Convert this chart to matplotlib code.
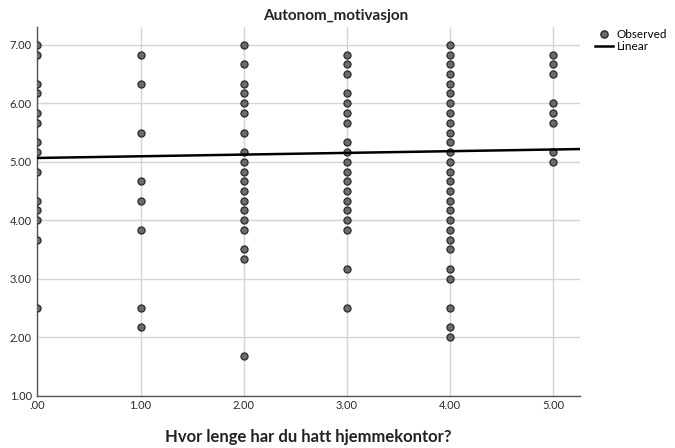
import numpy as np
import matplotlib
matplotlib.use("Agg")
import matplotlib.pyplot as plt
from matplotlib.lines import Line2D

# Autonom_motivasjon scores per group of "Hvor lenge har du hatt hjemmekontor?"
group_0 = [7.00, 6.83, 6.33, 6.17, 5.83, 5.67, 5.33, 5.17, 4.83, 4.33, 4.17, 4.00, 3.67, 2.50]
group_1 = [6.83, 6.33, 5.50, 4.67, 4.33, 3.83, 2.50, 2.17]
group_2 = [7.00, 6.67, 6.33, 6.17, 6.00, 5.83, 5.50, 5.17, 5.00, 4.83, 4.67, 4.50,
           4.33, 4.17, 4.00, 3.83, 3.50, 3.33, 1.67]
group_3 = [6.83, 6.67, 6.50, 6.17, 6.00, 5.83, 5.67, 5.33, 5.17, 5.00, 4.83, 4.67,
           4.50, 4.33, 4.17, 4.00, 3.83, 3.17, 2.50]
group_4 = [7.00, 6.83, 6.67, 6.50, 6.33, 6.17, 6.00, 5.83, 5.67, 5.50, 5.33, 5.17,
           5.00, 4.83, 4.67, 4.50, 4.33, 4.17, 4.00, 3.83, 3.67, 3.50, 3.17, 3.00,
           2.50, 2.17, 2.00]
group_5 = [6.83, 6.67, 6.50, 6.00, 5.83, 5.67, 5.17, 5.00]
groups = [group_0, group_1, group_2, group_3, group_4, group_5]

# linear fit (estimated on all respondents)
fit_intercept = 5.065
fit_slope = 0.029

x_ticks = [0, 1, 2, 3, 4, 5]
x_tick_labels = [".00", "1.00", "2.00", "3.00", "4.00", "5.00"]
y_ticks = [1, 2, 3, 4, 5, 6, 7]
y_tick_labels = ["1.00", "2.00", "3.00", "4.00", "5.00", "6.00", "7.00"]

plt.rcParams["font.family"] = ["Lato", "DejaVu Sans"]

fig = plt.figure(figsize=(6.75, 4.48), dpi=100)
ax = fig.add_axes([0.0553, 0.117, 0.8040, 0.8233])

xs = np.concatenate([np.full(len(g), i) for i, g in zip(x_ticks, groups)])
ys = np.concatenate([np.array(g) for g in groups])

xmin, xmax = 0, 5.26
ax.set_xlim(xmin, xmax)
ax.set_ylim(1, 7.31)

ax.grid(True, color="#d4d4d4", linewidth=1.0, zorder=0)
ax.set_axisbelow(True)

ax.scatter(xs, ys, s=26, facecolor="#6b6b6b", edgecolor="#2b2b2b",
           linewidth=0.9, zorder=3)

line_x = np.array([xmin, xmax])
ax.plot(line_x, fit_intercept + fit_slope * line_x, color="black",
        linewidth=1.8, zorder=4)

ax.set_xticks(x_ticks)
ax.set_xticklabels(x_tick_labels)
ax.set_yticks(y_ticks)
ax.set_yticklabels(y_tick_labels)
ax.tick_params(length=0, labelsize=8, colors="#2a2a2a", pad=4)
ax.tick_params(axis="x", pad=3)

for side in ["top", "right"]:
    ax.spines[side].set_visible(False)
for side in ["left", "bottom"]:
    ax.spines[side].set_color("#555555")
    ax.spines[side].set_linewidth(1.0)

ax.set_title("Autonom_motivasjon", fontsize=11, fontweight="bold",
             color="#222222", x=0.55, pad=5)
ax.set_xlabel("Hvor lenge har du hatt hjemmekontor?", fontsize=12,
              fontweight="bold", color="#222222", labelpad=13)

handles = [
    Line2D([], [], marker="o", linestyle="none", markersize=5.2,
           markerfacecolor="#6b6b6b", markeredgecolor="#2b2b2b", label="Observed"),
    Line2D([], [], color="black", linewidth=1.8, label="Linear"),
]
fig.legend(handles=handles, loc="upper left", bbox_to_anchor=(0.872, 0.948),
           frameon=False, fontsize=8.5, handlelength=1.6, handletextpad=0.3,
           labelspacing=0.1, borderpad=0)

fig.savefig("out.png", dpi=100)
